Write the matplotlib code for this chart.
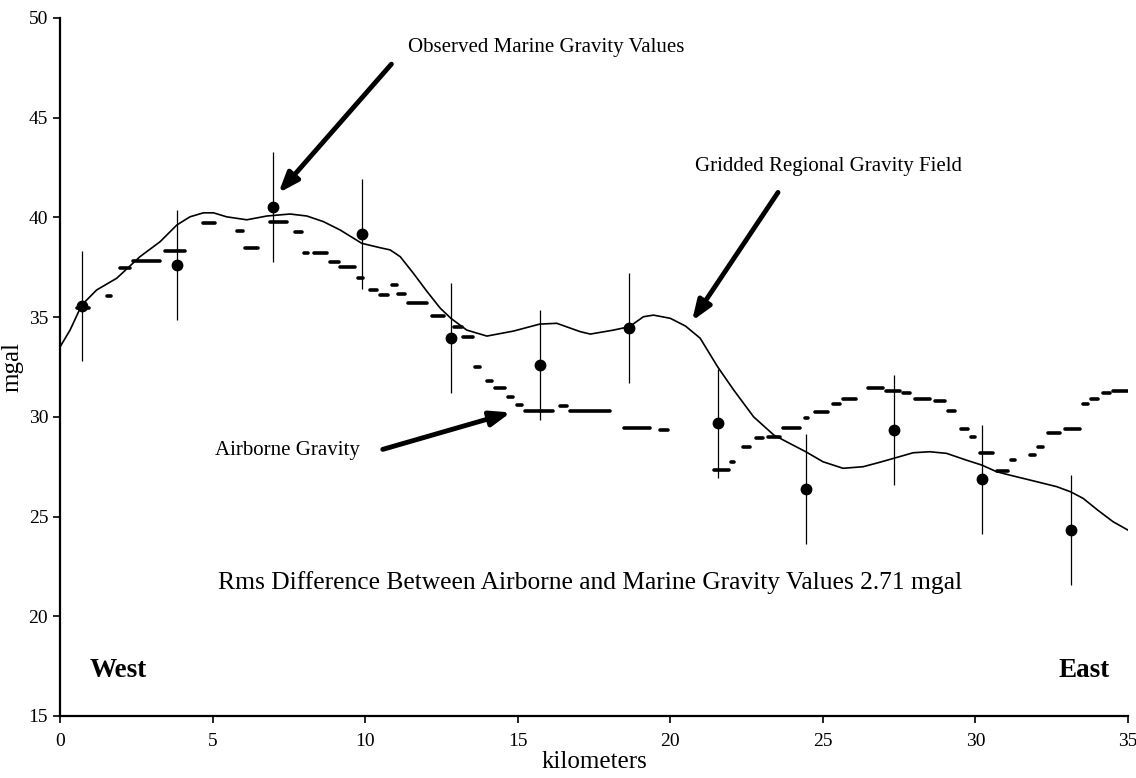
import matplotlib
matplotlib.use("Agg")
import matplotlib.pyplot as plt

plt.rcParams['font.family'] = ['Liberation Serif', 'DejaVu Serif']

# observed marine gravity values (km, mgal) with error bars
marine_km = [0.71, 3.83, 6.97, 9.89, 12.81, 15.72, 18.66, 21.55, 24.44, 27.32, 30.21, 33.12]
marine_mgal = [35.57, 37.61, 40.51, 39.17, 33.97, 32.60, 34.47, 29.67, 26.38, 29.34, 26.86, 24.32]
marine_err = [2.75] * 12

grid_km = [0.0, 0.33, 0.71, 1.2, 1.86, 2.62, 3.28, 3.83, 4.26, 4.7, 5.03, 5.46, 6.12, 6.78,
           7.54, 8.09, 8.63, 9.18, 9.89, 10.49, 10.82, 11.15, 11.58, 12.02, 12.46, 12.81,
           13.33, 13.99, 14.86, 15.72, 16.28, 17.05, 17.38, 18.14, 18.66, 19.12, 19.45, 20.0,
           20.5, 20.98, 21.55, 22.08, 22.73, 23.39, 23.91, 24.44, 25.0, 25.66, 26.32, 26.86,
           27.32, 27.96, 28.5, 29.05, 29.7, 30.21, 30.69, 31.12, 32.0, 32.66, 33.12, 33.53,
           34.0, 34.51, 35.0]
grid_mgal = [33.5, 34.35, 35.6, 36.36, 36.95, 38.03, 38.78, 39.62, 40.03, 40.23, 40.23, 40.03,
             39.88, 40.07, 40.17, 40.07, 39.79, 39.37, 38.7, 38.48, 38.37, 38.03, 37.2, 36.3,
             35.45, 34.94, 34.35, 34.05, 34.3, 34.65, 34.69, 34.27, 34.15, 34.35, 34.52, 35.02,
             35.1, 34.94, 34.55, 33.94, 32.51, 31.34, 30.0, 29.09, 28.67, 28.25, 27.75, 27.42,
             27.5, 27.72, 27.92, 28.2, 28.25, 28.17, 27.83, 27.58, 27.25, 27.08, 26.75, 26.5,
             26.24, 25.91, 25.33, 24.74, 24.32]

# airborne gravity: runs of recorded values (start km, end km, mgal)
air_x0 = [0.0, 0.27, 0.4, 0.55, 1.15, 1.31, 1.55, 1.86, 1.97, 2.4, 3.44, 4.15, 4.32, 4.43, 4.54,
          4.7, 5.25, 5.35, 5.52, 5.6, 5.79, 6.07, 6.56, 6.67, 6.8, 6.89, 7.54, 7.7, 7.98, 8.25,
          8.31, 8.85, 9.18, 9.77, 10.16, 10.49, 10.87, 11.08, 11.41, 12.19, 12.9, 13.22, 13.6,
          13.99, 14.26, 14.69, 14.97, 15.25, 16.39, 16.72, 18.25, 18.47, 19.51, 19.67, 20.11,
          20.38, 20.55, 20.82, 20.93, 21.42, 22.0, 22.24, 22.38, 22.82, 23.2, 23.69, 24.4, 24.73,
          25.33, 25.66, 26.26, 26.48, 27.08, 27.63, 28.01, 28.67, 29.1, 29.54, 29.87, 30.14,
          30.69, 31.18, 31.4, 31.78, 32.05, 32.38, 32.93, 33.53, 33.8, 34.19, 34.51]
air_x1 = [0.0, 0.27, 0.4, 0.95, 1.15, 1.31, 1.67, 1.86, 2.3, 3.27, 4.1, 4.15, 4.32, 4.43, 4.54,
          5.08, 5.25, 5.35, 5.52, 5.6, 6.0, 6.5, 6.56, 6.67, 6.8, 7.43, 7.54, 7.92, 8.14, 8.25,
          8.74, 9.13, 9.67, 9.93, 10.38, 10.75, 11.04, 11.3, 12.02, 12.6, 13.17, 13.55, 13.77,
          14.15, 14.59, 14.85, 15.14, 16.16, 16.61, 18.03, 18.25, 19.34, 19.51, 19.93, 20.11,
          20.38, 20.55, 20.82, 20.93, 21.91, 22.1, 22.24, 22.6, 23.04, 23.58, 24.24, 24.51, 25.17,
          25.55, 26.1, 26.26, 26.97, 27.52, 27.85, 28.5, 28.99, 29.32, 29.76, 29.98, 30.58,
          31.07, 31.3, 31.4, 31.94, 32.22, 32.76, 33.42, 33.69, 34.02, 34.4, 35.0]
air_mgal = [35.6, 35.45, 35.2, 35.47, 36.0, 35.77, 36.06, 36.78, 37.45, 37.81, 38.33, 38.87, 38.48,
            39.45, 39.28, 39.7, 39.28, 38.48, 39.45, 39.7, 39.3, 38.48, 39.67, 39.28, 39.67, 39.79,
            39.62, 39.28, 38.2, 38.73, 38.23, 37.77, 37.5, 36.94, 36.37, 36.11, 36.62, 36.16,
            35.69, 35.05, 34.52, 34.02, 32.52, 31.8, 31.45, 31.0, 30.6, 30.3, 30.55, 30.3, 29.92,
            29.42, 29.09, 29.34, 29.0, 28.5, 28.0, 27.8, 27.3, 27.33, 27.72, 28.03, 28.5, 28.92,
            29.0, 29.45, 29.92, 30.26, 30.64, 30.88, 31.21, 31.43, 31.31, 31.21, 30.89, 30.79,
            30.29, 29.37, 28.97, 28.17, 27.3, 27.83, 27.63, 28.09, 28.5, 29.17, 29.39, 30.64,
            30.88, 31.18, 31.31]

fig = plt.figure(figsize=(11.36, 7.78), dpi=100)
ax = fig.add_axes([0.0528, 0.0797, 0.9402, 0.8972])

# airborne runs drawn as short dashes / dots
for x0, x1, v in zip(air_x0, air_x1, air_mgal):
    ax.plot([x0, x1], [v, v], color='black', lw=2.6, solid_capstyle='round')

ax.plot(grid_km, grid_mgal, color='black', lw=1.2)

ax.errorbar(marine_km, marine_mgal, yerr=marine_err, fmt='o', color='black',
            markersize=7.5, elinewidth=0.9, capsize=0)

ax.set_xlim(0, 35)
ax.set_ylim(15, 50)
ax.set_xticks(range(0, 36, 5))
ax.set_yticks(range(15, 51, 5))
ax.spines['top'].set_visible(False)
ax.spines['right'].set_visible(False)
ax.spines['left'].set_linewidth(1.6)
ax.spines['bottom'].set_linewidth(1.6)
ax.tick_params(labelsize=14, length=5, width=1.2)
ax.tick_params(axis='x', pad=7)
ax.set_xlabel('kilometers', fontsize=18, labelpad=1)
ax.set_ylabel('mgal', fontsize=18, labelpad=4)

arrow = dict(arrowstyle='-|>,head_length=1.2,head_width=0.45', color='black', lw=3.5)
ax.annotate('', xy=(7.10, 41.12), xytext=(10.92, 47.79), arrowprops=arrow)
ax.annotate('', xy=(20.66, 34.69), xytext=(23.58, 41.37), arrowprops=arrow)
ax.annotate('', xy=(14.86, 30.26), xytext=(10.49, 28.33), arrowprops=arrow)

ax.text(11.41, 48.5, 'Observed Marine Gravity Values', fontsize=15, va='center', ha='left')
ax.text(20.82, 42.53, 'Gridded Regional Gravity Field', fontsize=15, va='center', ha='left')
ax.text(5.08, 28.33, 'Airborne Gravity', fontsize=15, va='center', ha='left')
ax.text(17.37, 21.67, 'Rms Difference Between Airborne and Marine Gravity Values 2.71 mgal',
        fontsize=18.4, va='center', ha='center')
ax.text(0.98, 17.3, 'West', fontsize=19.5, fontweight='bold', va='center', ha='left')
ax.text(32.71, 17.3, 'East', fontsize=19.5, fontweight='bold', va='center', ha='left')

fig.savefig('out.png', dpi=100)
